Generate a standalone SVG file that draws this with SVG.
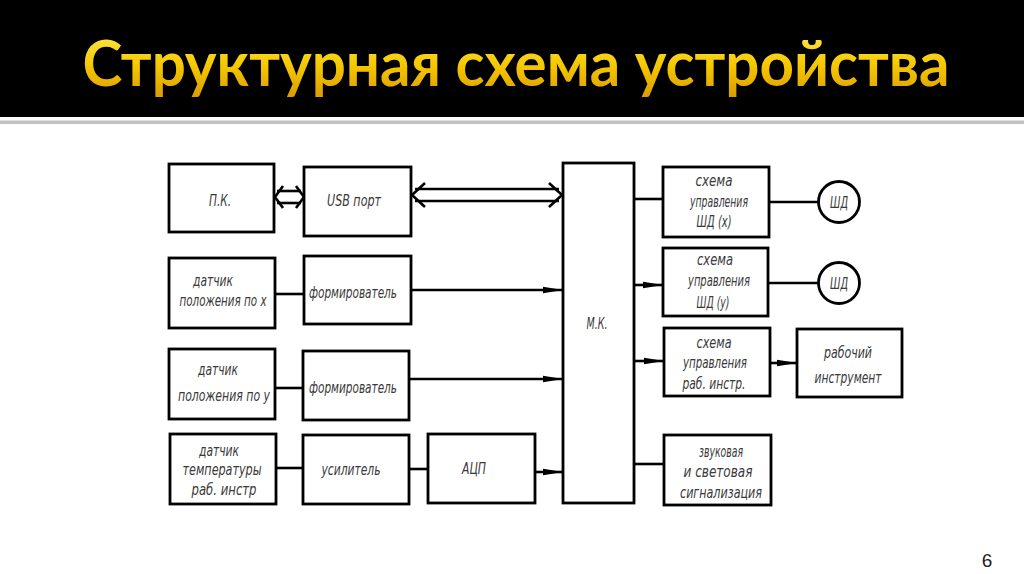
<svg xmlns="http://www.w3.org/2000/svg" width="1024" height="574" viewBox="0 0 1024 574">
<defs>
<linearGradient id="gold" x1="0" y1="0" x2="0" y2="1">
<stop offset="0" stop-color="#FFEF5A"/>
<stop offset="0.55" stop-color="#F5C800"/>
<stop offset="1" stop-color="#D99A00"/>
</linearGradient>
<marker id="ah" viewBox="0 0 20 8" refX="20" refY="4" markerWidth="20" markerHeight="8" markerUnits="userSpaceOnUse" orient="auto">
<path d="M0,0.8 L20,4 L0,7.2 Z" fill="#000"/>
</marker>
</defs>
<style>
.box{fill:#fff;stroke:#000;stroke-width:2.8}
.ln{fill:none;stroke:#000;stroke-width:2.6}
.lbl{font-family:"DejaVu Sans","Liberation Sans",sans-serif;font-stretch:condensed;font-style:italic;font-size:15px;fill:#3a3a3a;text-anchor:middle}
</style>
<rect x="0" y="0" width="1024" height="574" fill="#fff"/>
<rect x="0" y="0" width="1024" height="117" fill="#000"/>
<rect x="0" y="120.5" width="1024" height="3.5" fill="#c0c0c0"/>
<text x="516" y="86" font-family="Lato,'Open Sans','Liberation Sans',sans-serif" font-weight="700" font-size="63" fill="url(#gold)" text-anchor="middle" textLength="867" lengthAdjust="spacingAndGlyphs">Структурная схема устройства</text>

<g id="connectors">
<line class="ln" x1="277" y1="191" x2="301" y2="191"/>
<line class="ln" x1="277" y1="203" x2="301" y2="203"/>
<path class="ln" d="M283,186 L275,197 L283,208 M296,186 L304,197 L296,208"/>
<line class="ln" x1="415" y1="189" x2="559" y2="189"/>
<line class="ln" x1="415" y1="201" x2="559" y2="201"/>
<path class="ln" d="M425,183 L412,195 L425,207 M549,183 L562,195 L549,207"/>
<line class="ln" x1="275" y1="294" x2="304" y2="294"/>
<line class="ln" x1="411" y1="290" x2="563" y2="290" marker-end="url(#ah)"/>
<line class="ln" x1="275" y1="388" x2="303" y2="388"/>
<line class="ln" x1="409" y1="379" x2="563" y2="379" marker-end="url(#ah)"/>
<line class="ln" x1="276" y1="468" x2="303" y2="468"/>
<line class="ln" x1="409" y1="469" x2="428" y2="469"/>
<line class="ln" x1="535" y1="472" x2="563" y2="472" marker-end="url(#ah)"/>
<line class="ln" x1="634" y1="199" x2="663" y2="199"/>
<line class="ln" x1="769" y1="202" x2="818" y2="202"/>
<line class="ln" x1="634" y1="285" x2="663" y2="285" marker-end="url(#ah)"/>
<line class="ln" x1="768" y1="283" x2="818" y2="283"/>
<line class="ln" x1="634" y1="361" x2="664" y2="361" marker-end="url(#ah)"/>
<line class="ln" x1="770" y1="363" x2="797" y2="363" marker-end="url(#ah)"/>
<line class="ln" x1="634" y1="464" x2="664" y2="464"/>
</g>

<g id="pk"><rect class="box" x="169" y="164" width="105" height="68"/><text class="lbl" x="220" y="206" textLength="22" lengthAdjust="spacingAndGlyphs">П.К.</text></g>
<g id="usb"><rect class="box" x="304" y="167" width="107" height="69"/><text class="lbl" x="354" y="206" textLength="54" lengthAdjust="spacingAndGlyphs">USB порт</text></g>
<g id="dx"><rect class="box" x="169" y="258" width="106" height="70"/>
<text class="lbl" x="213" y="286" textLength="40" lengthAdjust="spacingAndGlyphs">датчик</text>
<text class="lbl" x="223" y="306" textLength="87" lengthAdjust="spacingAndGlyphs">положения по x</text></g>
<g id="f1"><rect class="box" x="304" y="256" width="107" height="68"/><text class="lbl" x="353" y="298" textLength="88" lengthAdjust="spacingAndGlyphs">формирователь</text></g>
<g id="dy"><rect class="box" x="169" y="349" width="106" height="70"/>
<text class="lbl" x="218" y="375" textLength="40" lengthAdjust="spacingAndGlyphs">датчик</text>
<text class="lbl" x="224" y="401" textLength="92" lengthAdjust="spacingAndGlyphs">положения по у</text></g>
<g id="f2"><rect class="box" x="303" y="351" width="106" height="69"/><text class="lbl" x="353" y="393" textLength="88" lengthAdjust="spacingAndGlyphs">формирователь</text></g>
<g id="dt"><rect class="box" x="170" y="434" width="106" height="70"/>
<text class="lbl" x="219" y="456" textLength="40" lengthAdjust="spacingAndGlyphs">датчик</text>
<text class="lbl" x="222" y="475" textLength="79" lengthAdjust="spacingAndGlyphs">температуры</text>
<text class="lbl" x="224" y="495" textLength="65" lengthAdjust="spacingAndGlyphs">раб. инстр</text></g>
<g id="amp"><rect class="box" x="303" y="435" width="106" height="69"/><text class="lbl" x="351" y="475" textLength="59" lengthAdjust="spacingAndGlyphs">усилитель</text></g>
<g id="adc"><rect class="box" x="428" y="434" width="107" height="69"/><text class="lbl" x="474" y="474" textLength="24" lengthAdjust="spacingAndGlyphs">АЦП</text></g>
<g id="mk"><rect class="box" x="563" y="163" width="71" height="340"/><text class="lbl" x="597" y="329" textLength="21" lengthAdjust="spacingAndGlyphs">М.К.</text></g>
<g id="sx"><rect class="box" x="663" y="167" width="106" height="70"/>
<text class="lbl" x="714" y="186" textLength="37" lengthAdjust="spacingAndGlyphs">схема</text>
<text class="lbl" x="719" y="207" textLength="58" lengthAdjust="spacingAndGlyphs">управления</text>
<text class="lbl" x="714" y="227" textLength="35" lengthAdjust="spacingAndGlyphs">ШД (x)</text></g>
<g id="sy"><rect class="box" x="663" y="248" width="105" height="68"/>
<text class="lbl" x="715" y="265" textLength="36" lengthAdjust="spacingAndGlyphs">схема</text>
<text class="lbl" x="719" y="286" textLength="62" lengthAdjust="spacingAndGlyphs">управления</text>
<text class="lbl" x="713" y="308" textLength="33" lengthAdjust="spacingAndGlyphs">ШД (у)</text></g>
<g id="sr"><rect class="box" x="664" y="328" width="106" height="68"/>
<text class="lbl" x="714" y="348" textLength="35" lengthAdjust="spacingAndGlyphs">схема</text>
<text class="lbl" x="715" y="368" textLength="64" lengthAdjust="spacingAndGlyphs">управления</text>
<text class="lbl" x="714" y="389" textLength="63" lengthAdjust="spacingAndGlyphs">раб. инстр.</text></g>
<g id="tool"><rect class="box" x="797" y="329" width="105" height="68"/>
<text class="lbl" x="848" y="358" textLength="48" lengthAdjust="spacingAndGlyphs">рабочий</text>
<text class="lbl" x="848" y="383" textLength="67" lengthAdjust="spacingAndGlyphs">инструмент</text></g>
<g id="sig"><rect class="box" x="664" y="435" width="107" height="70"/>
<text class="lbl" x="721" y="457" textLength="44" lengthAdjust="spacingAndGlyphs">звуковая</text>
<text class="lbl" x="718" y="477" textLength="69" lengthAdjust="spacingAndGlyphs">и световая</text>
<text class="lbl" x="721" y="498" textLength="82" lengthAdjust="spacingAndGlyphs">сигнализация</text></g>
<g id="m1"><circle cx="839" cy="202" r="20.5" fill="#fff" stroke="#000" stroke-width="2.8"/><text class="lbl" x="839" y="208" textLength="18" lengthAdjust="spacingAndGlyphs">ШД</text></g>
<g id="m2"><circle cx="839" cy="283" r="20.5" fill="#fff" stroke="#000" stroke-width="2.8"/><text class="lbl" x="839" y="289" textLength="18" lengthAdjust="spacingAndGlyphs">ШД</text></g>
<text x="987" y="567" font-family="'Liberation Sans',Arial,sans-serif" font-size="19" fill="#222" text-anchor="middle">6</text>
</svg>
